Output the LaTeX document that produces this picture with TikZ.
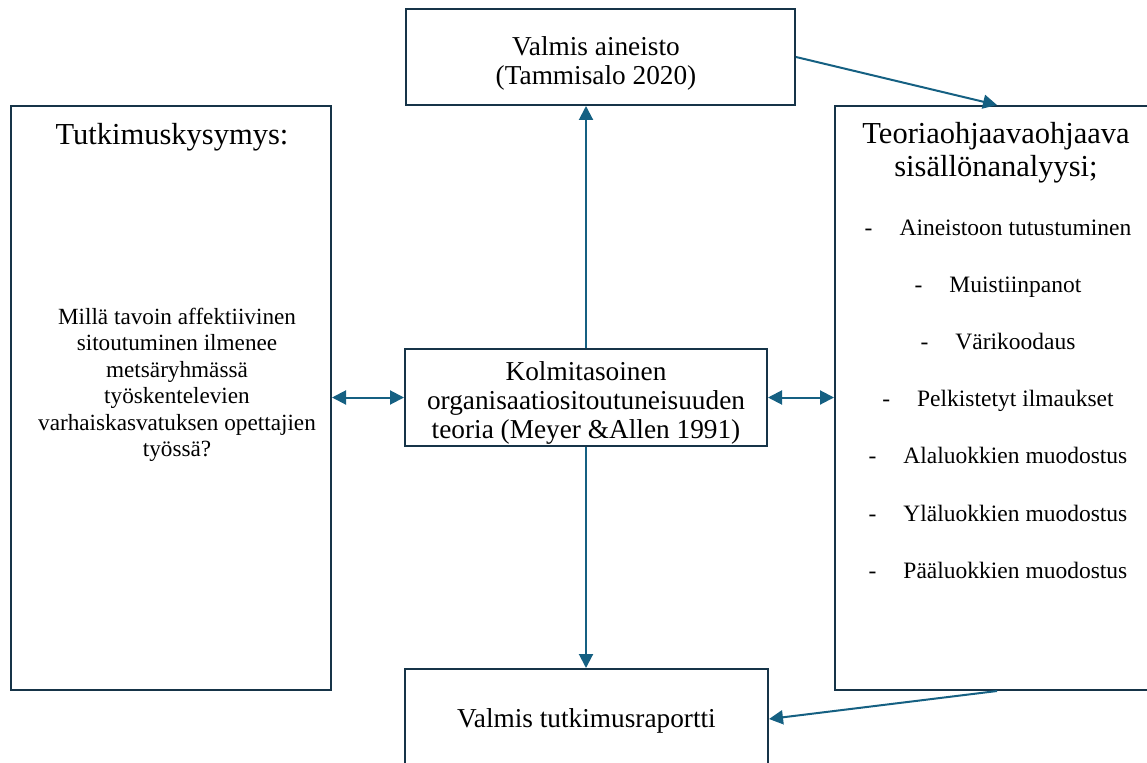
\documentclass[tikz,border=0pt]{standalone}
\usepackage{fontspec}
\setmainfont{Liberation Serif}
\usetikzlibrary{arrows.meta,calc}
\definecolor{boxc}{RGB}{22,52,72}
\definecolor{arrc}{RGB}{21,96,130}
\begin{document}
\begin{tikzpicture}[x=1pt,y=-1pt,
  box/.style={draw=boxc,line width=2pt,fill=white,inner sep=0pt,rectangle},
  txt/.style={align=center,inner sep=0pt,text=black},
  conn/.style={draw=arrc,line width=2pt,-{Triangle[length=14pt,width=14pt]}},
  dconn/.style={draw=arrc,line width=2pt,{Triangle[length=14pt,width=14pt]}-{Triangle[length=14pt,width=14pt]}},
  item/.style={inner sep=0pt,anchor=base,font=\fontsize{23.5}{27}\selectfont}]
\useasboundingbox (0,0) rectangle (1147,762);
\clip (0,0) rectangle (1147,762);
% boxes
\node[box,minimum width=389pt,minimum height=96pt] (top) at (600.5,57) {};
\node[box,minimum width=320pt,minimum height=584pt] (left) at (171,398) {};
\node[box,minimum width=362pt,minimum height=97pt] (mid) at (586,397.5) {};
\node[box,minimum width=324pt,minimum height=584pt] (right) at (997,398) {};
\node[box,minimum width=363pt,minimum height=100pt] (bot) at (586.5,719) {};
% texts
\node[txt,font=\fontsize{27.3}{29}\selectfont] (toptxt) at (596,63) {Valmis aineisto\\(Tammisalo 2020)};
\node[txt,font=\fontsize{30.5}{33}\selectfont] (lefttitle) at (172,137) {Tutkimuskysymys:};
\node[txt,font=\fontsize{23.2}{26.5}\selectfont] (leftbody) at (177,385) {Millä tavoin affektiivinen\\sitoutuminen ilmenee\\metsäryhmässä\\työskentelevien\\varhaiskasvatuksen opettajien\\työssä?};
\node[txt,font=\fontsize{27.3}{29}\selectfont] (midtxt) at (586,403) {Kolmitasoinen\\organisaatiositoutuneisuuden\\teoria (Meyer \&Allen 1991)};
\node[txt,font=\fontsize{30.5}{33}\selectfont] (righttitle) at (996,153) {Teoriaohjaavaohjaava\\sisällönanalyysi;};
\node[item] (i1) at (998,235) {-\hspace{27pt}Aineistoon tutustuminen};
\node[item] (i2) at (998,292) {-\hspace{27pt}Muistiinpanot};
\node[item] (i3) at (998,349) {-\hspace{27pt}Värikoodaus};
\node[item] (i4) at (998,406) {-\hspace{27pt}Pelkistetyt ilmaukset};
\node[item] (i5) at (998,463) {-\hspace{27pt}Alaluokkien muodostus};
\node[item] (i6) at (998,521) {-\hspace{27pt}Yläluokkien muodostus};
\node[item] (i7) at (998,578) {-\hspace{27pt}Pääluokkien muodostus};
\node[txt,font=\fontsize{27.3}{29}\selectfont] (bottxt) at (586.5,721) {Valmis tutkimusraportti};
% connectors
\draw[conn] (mid.north) -- (mid.north |- top.south);
\draw[conn] (mid.south) -- (mid.south |- bot.north);
\draw[dconn] (mid.west -| left.east) -- (mid.west);
\draw[dconn] (mid.east) -- (mid.east -| right.west);
\draw[conn] (top.east) -- (right.north);
\draw[conn] (right.south) -- (bot.east);
\end{tikzpicture}
\end{document}
